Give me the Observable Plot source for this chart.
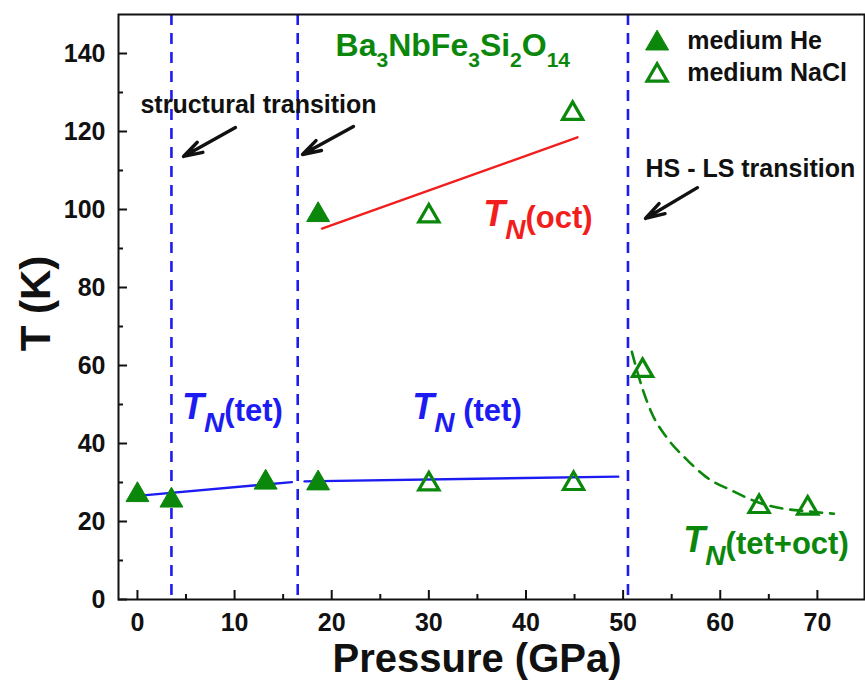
<!DOCTYPE html>
<html><head><meta charset="utf-8">
<script src="https://cdn.jsdelivr.net/npm/d3@7"></script>
<script src="https://cdn.jsdelivr.net/npm/@observablehq/plot@0.6"></script>
<style>body{margin:0;background:#fff}#chart{width:865px;height:680px}</style>
</head><body><div id="chart"></div>
<script>
const GREEN = "#0b870b", BLUE = "#1c1cf2", RED = "#f21d1d";

// measured points
const heP = [0, 3.5, 13.2, 18.6, 18.6];
const heT = [26.8, 25.4, 30.0, 29.8, 98.6];
const naclP = [30, 44.9, 30, 44.8, 52, 64, 69];
const naclT = [29.6, 29.7, 98.3, 124.6, 58.7, 23.8, 23.4];

// transitions (vertical dashed lines)
const transitionP = [3.5, 16.5, 50.5];

// guide lines
const tet1P = [0.6, 15.9], tet1T = [26.7, 30.1];
const tet2P = [17.2, 49.5], tet2T = [30.3, 31.5];
const octP = [19.0, 45.3], octT = [95.1, 118.5];
const mixP = [50.9, 52, 53, 54.5, 56.5, 58.5, 61.3, 64, 66.5, 69, 71.7];
const mixT = [63.5, 54, 47.5, 41.5, 36, 31.5, 27.8, 24.8, 23.3, 22.6, 22];

// ticks
const xMajor = [0, 10, 20, 30, 40, 50, 60, 70];
const xMinor = [5, 15, 25, 35, 45, 55, 65];
const yMajor = [0, 20, 40, 60, 80, 100, 120, 140];
const yMinor = [10, 30, 50, 70, 90, 110, 130];

// annotations
const noteText = ["structural transition", "HS - LS transition"];
const noteP = [0.31, 52.3];
const noteT = [126.7, 110.3];
const arrowP1 = [10.09, 22.24, 57.65], arrowT1 = [121.0, 121.3, 105.6];
const arrowP2 = [4.74, 16.99, 52.3], arrowT2 = [113.6, 114.1, 97.7];
const titleText = ["Ba_{3}NbFe_{3}Si_{2}O_{14}"];
const titleP = [20.4], titleT = [142.1];
const tnText = ["*T*_{N}(tet)", "*T*_{N} (tet)", "*T*_{N}(oct)", "*T*_{N}(tet+oct)"];
const tnP = [4.6, 28.3, 35.6, 56.2];
const tnT = [48.9, 48.9, 98.4, 14.6];
const tnColor = [BLUE, BLUE, RED, GREEN];
const legendText = ["medium He", "medium NaCl"];
const legendSymP = [53.5, 53.5], legendSymT = [142.6, 134.4];
const legendTextP = [56.6, 56.6], legendTextT = [143.3, 135.1];

const zip = (a, b) => a.map((v, i) => ({x: v, y: b[i]}));
const he = zip(heP, heT), nacl = zip(naclP, naclT);
const arrows = arrowP1.map((v, i) => ({x1: v, y1: arrowT1[i], x2: arrowP2[i], y2: arrowT2[i]}));
const W = 865, H = 680, ML = 118, MR = 1, MT = 14, MB = 81;
const innerW = W - ML - MR, innerH = H - MT - MB;
const FONT = "'Liberation Sans', Arial, sans-serif";

const plot = Plot.plot({
  width: W, height: H,
  marginLeft: ML, marginRight: MR, marginTop: MT, marginBottom: MB,
  x: {domain: [-1.95, 74.85]},
  y: {domain: [0, 150]},
  style: {fontFamily: FONT, background: "white", overflow: "visible"},
  marks: [
    Plot.ruleX(transitionP, {stroke: BLUE, strokeWidth: 2.6, strokeDasharray: "11,8"}),
    Plot.line(zip(tet1P, tet1T), {x: "x", y: "y", stroke: BLUE, strokeWidth: 2.4}),
    Plot.line(zip(tet2P, tet2T), {x: "x", y: "y", stroke: BLUE, strokeWidth: 2.4}),
    Plot.line(zip(octP, octT), {x: "x", y: "y", stroke: RED, strokeWidth: 2.4}),
    Plot.line(zip(mixP, mixT), {x: "x", y: "y", stroke: GREEN, strokeWidth: 2.6, strokeDasharray: "12,8", curve: "monotone-x"}),
    Plot.dot(he, {x: "x", y: "y", symbol: "triangle", r: 8.5, fill: GREEN, stroke: GREEN, strokeWidth: 1}),
    Plot.dot(nacl, {x: "x", y: "y", symbol: "triangle", r: 7.5, fill: "none", stroke: GREEN, strokeWidth: 3.2}),
    Plot.dot([0], {x: () => legendSymP[0], y: () => legendSymT[0], symbol: "triangle", r: 8.5, fill: GREEN, stroke: GREEN, strokeWidth: 1}),
    Plot.dot([0], {x: () => legendSymP[1], y: () => legendSymT[1], symbol: "triangle", r: 7.5, fill: "none", stroke: GREEN, strokeWidth: 3.2}),
    Plot.text(legendText, {x: (d, i) => legendTextP[i], y: (d, i) => legendTextT[i], text: d => d, textAnchor: "start", fontSize: 25, fontWeight: "bold", fill: "#111"}),
    Plot.text(noteText, {x: (d, i) => noteP[i], y: (d, i) => noteT[i], text: d => d, textAnchor: "start", fontSize: 25, fontWeight: "bold", fill: "#111"}),
    Plot.arrow(arrows, {x1: "x1", y1: "y1", x2: "x2", y2: "y2", stroke: "#111", strokeWidth: 3.4, headLength: 15, headAngle: 34}),
    Plot.text(titleText, {x: (d, i) => titleP[i], y: (d, i) => titleT[i], text: d => d, textAnchor: "start", fontSize: 32, fontWeight: "bold", fill: GREEN}),
    Plot.text(tnText, {x: (d, i) => tnP[i], y: (d, i) => tnT[i], text: d => d, textAnchor: "start", fontSize: 31, fontWeight: "bold", fill: (d, i) => tnColor[i]}),
    Plot.frame({stroke: "#111", strokeWidth: 2}),
    Plot.ruleX(xMajor, {stroke: "#111", strokeWidth: 2, insetTop: innerH - 9}),
    Plot.ruleX(xMinor, {stroke: "#111", strokeWidth: 2, insetTop: innerH - 5}),
    Plot.ruleY(yMajor, {stroke: "#111", strokeWidth: 2, insetRight: innerW - 9}),
    Plot.ruleY(yMinor, {stroke: "#111", strokeWidth: 2, insetRight: innerW - 5}),
    Plot.axisX(xMajor, {tickSize: 0, tickPadding: 14, fontSize: 25, fontWeight: "bold", fill: "#111", label: null}),
    Plot.axisY(yMajor, {tickSize: 0, tickPadding: 13, fontSize: 25, fontWeight: "bold", fill: "#111", label: null}),
    Plot.text(["Pressure (GPa)"], {frameAnchor: "bottom", lineAnchor: "middle", text: d => d, dx: -14.5, dy: 59.5, fontSize: 40, fontWeight: "bold", fill: "#111"}),
    Plot.text(["T (K)"], {frameAnchor: "left", lineAnchor: "middle", textAnchor: "middle", text: d => d, rotate: -90, dx: -82, dy: -3.5, fontSize: 42, fontWeight: "bold", fill: "#111"})
  ]
});

// rich text: *x* = italic large, _{x} = subscript
d3.select(plot).selectAll("text").each(function () {
  const s = this.textContent;
  if (!s.includes("_{")) return;
  const italicMode = s.includes("*");
  const parts = s.split(/(_\{[^}]*\}|\*[^*]*\*)/).filter(p => p.length);
  this.textContent = "";
  let pendingDy = 0;
  for (const p of parts) {
    const t = document.createElementNS("http://www.w3.org/2000/svg", "tspan");
    if (p.startsWith("_{")) {
      t.textContent = p.slice(2, -1);
      if (italicMode) {
        t.setAttribute("font-size", 28); t.setAttribute("font-style", "italic");
        t.setAttribute("dy", 13); pendingDy = -11;
      } else {
        t.setAttribute("font-size", 21); t.setAttribute("dy", 11); pendingDy = -11;
      }
    } else if (p.startsWith("*")) {
      t.textContent = p.slice(1, -1);
      t.setAttribute("font-size", 36); t.setAttribute("font-style", "italic");
      if (pendingDy) { t.setAttribute("dy", pendingDy); pendingDy = 0; }
    } else {
      t.textContent = p;
      if (pendingDy) { t.setAttribute("dy", pendingDy); pendingDy = 0; }
    }
    this.appendChild(t);
  }
});

document.getElementById("chart").appendChild(plot);
</script>
</body></html>
